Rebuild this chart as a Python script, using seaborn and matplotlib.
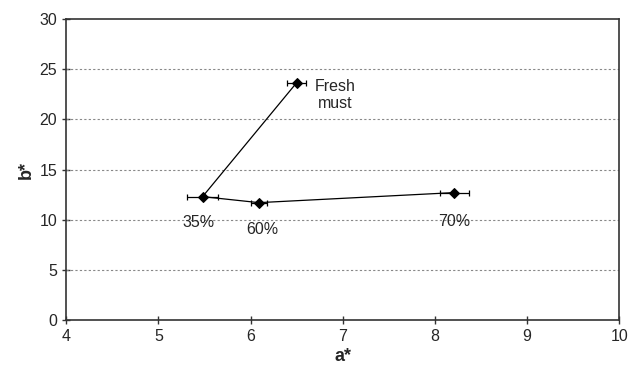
import matplotlib
matplotlib.use("Agg")
import matplotlib.pyplot as plt
import seaborn as sns
import pandas as pd

labels = ["Fresh\nmust", "35%", "60%", "70%"]
a_star = [6.5, 5.48, 6.09, 8.21]
b_star = [23.65, 12.3, 11.7, 12.7]
a_err = [0.1, 0.17, 0.09, 0.16]

df = pd.DataFrame({"a": a_star, "b": b_star, "label": labels})

sns.set_style("white")
plt.rcParams["font.family"] = ["Liberation Sans", "DejaVu Sans"]

fig = plt.figure(figsize=(6.3, 3.73), dpi=100)
ax = fig.add_axes([0.105, 0.142, 0.878, 0.807])

ax.errorbar(df["a"], df["b"], xerr=a_err, fmt="none", ecolor="black",
            elinewidth=0.9, capsize=2.5, capthick=0.9, zorder=3)
sns.lineplot(data=df, x="a", y="b", sort=False, estimator=None, ax=ax,
             color="black", linewidth=0.9, marker="D", markersize=5.2,
             markeredgecolor="black", markerfacecolor="black", zorder=4)

offsets = [(39, -12), (-4, -26), (3, -27), (0, -29)]
for (x, y, t), (dx, dy) in zip(zip(a_star, b_star, labels), offsets):
    ax.annotate(t, (x, y), xytext=(dx, dy), textcoords="offset pixels",
                ha="center", va="center", fontsize=11.5, linespacing=1.15,
                multialignment="center")

ax.set_xlim(4, 10)
ax.set_ylim(0, 30)
ax.set_xticks(range(4, 11))
ax.set_yticks(range(0, 31, 5))
for yv in range(5, 30, 5):
    ax.axhline(yv, color="#888888", linestyle=(0, (2, 2)), linewidth=0.8, zorder=1)

for s in ax.spines.values():
    s.set_color("#333333")
    s.set_linewidth(1.2)
ax.tick_params(axis="both", direction="inout", length=6, width=1, color="#333333",
               labelsize=11.5, left=True, bottom=True)
ax.set_xlabel("a*", fontsize=13, fontweight="bold", labelpad=3)
ax.set_ylabel("b*", fontsize=13, fontweight="bold", labelpad=3)

fig.savefig("out.png", dpi=100)
